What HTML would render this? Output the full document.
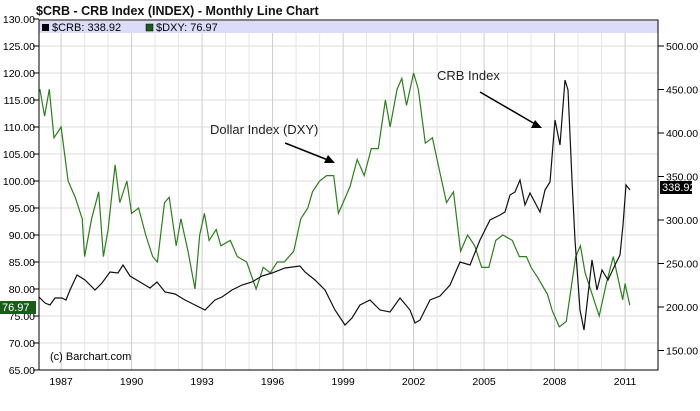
<!DOCTYPE html><html><head><style>body{margin:0;background:#fff}svg{display:block;font-family:"Liberation Sans",sans-serif}</style></head><body>
<svg id="s" width="700" height="411" xmlns="http://www.w3.org/2000/svg">
<text x="36" y="15" font-size="12.5" font-weight="bold" fill="#111">$CRB - CRB Index (INDEX) - Monthly Line Chart</text>
<g id="grid"></g>
<rect x="39" y="21" width="619" height="12" fill="#dcdcfa"/>
<rect x="42" y="24" width="7" height="7" fill="#000"/><text x="52" y="31" font-size="11">$CRB: 338.92</text>
<rect x="146" y="24" width="7" height="7" fill="#1a5c1a" stroke="#000" stroke-width="0.5"/><text x="156" y="31" font-size="11">$DXY: 76.97</text>
<polyline id="dxy" fill="none" stroke="#2e7d1e" stroke-width="1.2"/>
<polyline id="crb" fill="none" stroke="#111" stroke-width="1.2"/>
<rect x="39" y="20" width="619" height="350" fill="none" stroke="#000" stroke-width="1"/>
<text x="50" y="360" font-size="11">(c) Barchart.com</text>
<text x="210" y="134" font-size="13" fill="#222">Dollar Index (DXY)</text>
<line x1="285" y1="143" x2="328" y2="160" stroke="#000" stroke-width="1.5"/><polygon points="335,163 324,163 328,155" fill="#000"/>
<text x="437" y="80" font-size="13" fill="#222">CRB Index</text>
<line x1="480" y1="92" x2="535" y2="124" stroke="#000" stroke-width="1.5"/><polygon points="542,128 531,128 535,120" fill="#000"/>
<rect x="0" y="301" width="36" height="13" fill="#1a5c1a"/><text x="2" y="311" font-size="11" fill="#fff">76.97</text>
<rect x="660" y="181" width="32" height="13" fill="#000"/><text x="662" y="191" font-size="11" fill="#fff">338.92</text>
</svg>
<script>
var ns="http://www.w3.org/2000/svg",g=document.getElementById('grid'),s=document.getElementById('s');
function el(t,a,p){var e=document.createElementNS(ns,t);for(var k in a)e.setAttribute(k,a[k]);if(a.txt){e.textContent=a.txt;e.removeAttribute('txt');}(p||g).appendChild(e);return e;}
function X(yr){return 39+(yr-1986.06)*23.5}
for(var v=65;v<=130;v+=5){var y=370-(v-65)*5.4;if(v<130)el('line',{x1:39,x2:658,y1:y,y2:y,stroke:'#ddd'});el('line',{x1:33,x2:39,y1:y,y2:y,stroke:'#000'});el('text',{x:35,y:y+4,'font-size':10.5,'text-anchor':'end',txt:v.toFixed(2)});}
for(var yr=1987;yr<=2011;yr++){var x=X(yr);el('line',{x1:x,x2:x,y1:33,y2:370,stroke:(yr-1987)%3?'#e6e6e6':'#ccc'});if((yr-1987)%3==0)el('text',{x:x,y:385,'font-size':10.5,'text-anchor':'middle',txt:yr});}
for(var v=150;v<=500;v+=50){var y=46+(500-v)*0.87;el('line',{x1:658,x2:664,y1:y,y2:y,stroke:'#000'});el('text',{x:666,y:y+4,'font-size':10.5,txt:v.toFixed(2)});}
var d=[1986.1,117,1986.3,112,1986.5,117,1986.7,108,1987,110,1987.3,100,1987.6,97,1987.9,93,1988,86,1988.3,93,1988.6,98,1988.8,86,1989,91,1989.3,103,1989.5,96,1989.8,100,1990,94,1990.3,95,1990.6,90,1990.9,86,1991.1,85,1991.4,96,1991.6,97,1991.9,88,1992.1,93,1992.4,87,1992.7,80,1992.9,90,1993.1,94,1993.3,89,1993.6,91,1993.8,88,1994.2,89,1994.5,86,1994.9,85,1995.3,80,1995.6,84,1995.9,83,1996.2,85,1996.5,85,1996.9,87,1997.2,93,1997.5,95,1997.7,98,1998,100,1998.3,101,1998.6,101,1998.8,94,1999,96,1999.3,99,1999.6,104,1999.9,101,2000.2,106,2000.5,106,2000.8,115,2001,110,2001.3,117,2001.5,119,2001.7,114,2002,120,2002.2,117,2002.5,107,2002.8,108,2003.1,102,2003.4,96,2003.7,98,2004,87,2004.3,90,2004.6,88,2004.9,84,2005.2,84,2005.5,89,2005.8,90,2006.2,89,2006.5,86,2006.8,86,2007,84,2007.3,82,2007.7,79,2007.9,76,2008.2,73,2008.5,74,2008.7,80,2008.9,86,2009.1,88,2009.3,83,2009.6,79,2009.9,75,2010.2,81,2010.5,86,2010.7,82,2010.9,78,2011,81,2011.2,77];
var p=[];for(var i=0;i<d.length;i+=2){var x=X(d[i]),y=370-(d[i+1]-65)*5.4;p.push(x.toFixed(1)+','+y.toFixed(1));}
document.getElementById('dxy').setAttribute('points',p.join(' '));
document.getElementById('crb').setAttribute('points',"39,297 45,303 50,305 55,298 62,298 66,300 70,290 77,275 85,280 95,290 102,283 110,272 118,273 123,265 130,276 140,282 150,288 157,282 165,292 175,294 185,300 195,305 205,310 215,300 222,297 232,290 242,285 252,282 262,276 272,273 285,268 300,266 305,272 315,280 325,290 335,310 345,325 352,318 360,305 370,300 380,310 390,312 400,298 410,310 415,323 420,320 430,300 440,296 450,285 460,262 470,265 480,240 490,220 500,215 505,212 510,195 515,192 520,180 525,205 530,193 540,212 545,190 550,182 555,120 560,145 565,80 568,90 572,180 575,240 580,310 584,330 588,295 592,260 597,290 602,270 608,280 615,265 620,255 623,225 626,185 630,190");
</script>
</body></html>
